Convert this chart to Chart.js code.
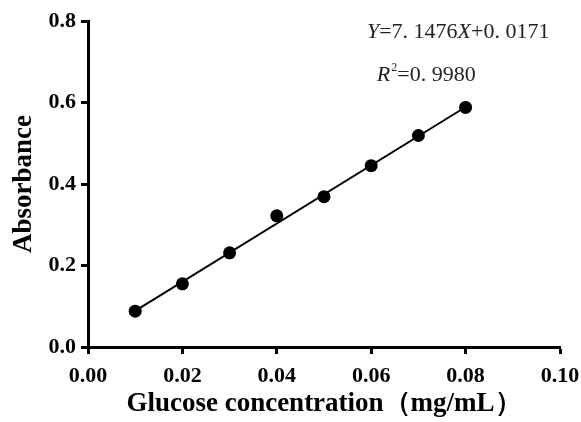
<!DOCTYPE html>
<html>
<head>
<meta charset="utf-8">
<script src="https://cdn.jsdelivr.net/npm/chart.js@4/dist/chart.umd.min.js"></script>
<style>
  body { margin: 0; background: #fff; }
  canvas { display: block; }
</style>
</head>
<body>
<canvas id="curve" width="581" height="422"></canvas>
<script>
// glucose standard curve
var concentration = [0.01, 0.02, 0.03, 0.04, 0.05, 0.06, 0.07, 0.08];
var absorbance = [0.088, 0.155, 0.231, 0.322, 0.369, 0.445, 0.519, 0.588];
var xTickLabels = ['0.00', '0.02', '0.04', '0.06', '0.08', '0.10'];
var yTickLabels = ['0.0', '0.2', '0.4', '0.6', '0.8'];
var slope = 7.1476;
var intercept = 0.0171;
var equationParts = [['Y', true], ['=7. 1476', false], ['X', true], ['+0. 0171', false]];
var rSquared = '=0. 9980';

var points = concentration.map(function (c, i) { return { x: c, y: absorbance[i] }; });
var first = concentration[0], last = concentration[concentration.length - 1];
var fitLine = [
    { x: first, y: slope * first + intercept },
    { x: last, y: slope * last + intercept }
];

var tickFont = { family: 'Liberation Serif', size: 22, weight: 'bold' };
var titleFont = { family: 'Liberation Serif', size: 27, weight: 'bold' };

// equation text in the upper right
var equationPlugin = {
    id: 'equation',
    afterDraw: function (chart) {
        var ctx = chart.ctx;
        var xs = chart.scales.x, ys = chart.scales.y;
        ctx.save();
        ctx.fillStyle = '#222';
        ctx.textBaseline = 'alphabetic';
        ctx.textAlign = 'left';
        var x = xs.getPixelForValue(0.0591);
        var y = ys.getPixelForValue(0.758);
        equationParts.forEach(function (p) {
            ctx.font = (p[1] ? 'italic ' : '') + '22px "Liberation Serif"';
            ctx.fillText(p[0], x, y);
            x += ctx.measureText(p[0]).width;
        });
        x = xs.getPixelForValue(0.0612);
        y = ys.getPixelForValue(0.652);
        ctx.font = 'italic 22px "Liberation Serif"';
        ctx.fillText('R', x, y);
        x += ctx.measureText('R').width + 1;
        ctx.font = '12px "Liberation Serif"';
        ctx.fillText('2', x, y - 10);
        x += ctx.measureText('2').width;
        ctx.font = '22px "Liberation Serif"';
        ctx.fillText(rSquared, x, y);
        ctx.restore();
    }
};

var ctx = document.getElementById('curve');
var chartGraph = new Chart(ctx, {
    type: 'scatter',
    data: {
        datasets: [{
            data: fitLine,
            showLine: true,
            borderColor: '#000',
            borderWidth: 2,
            pointRadius: 0
        }, {
            data: points,
            pointRadius: 6.5,
            pointBackgroundColor: '#000',
            pointBorderColor: '#000',
            borderWidth: 0
        }]
    },
    options: {
        responsive: false,
        animation: false,
        layout: { padding: { top: 21, right: 21, left: 0, bottom: 0 } },
        plugins: {
            legend: { display: false },
            tooltip: { enabled: false }
        },
        scales: {
            x: {
                type: 'linear',
                min: 0,
                max: 0.1,
                afterFit: function (scale) {
                    scale.height = 75;
                    scale.paddingLeft = 0;
                    scale.paddingRight = 0;
                },
                grid: { drawOnChartArea: false, drawTicks: true, tickLength: 7, tickWidth: 3, tickColor: '#000' },
                border: { display: true, width: 3, color: '#000' },
                ticks: {
                    stepSize: 0.02,
                    color: '#000',
                    font: tickFont,
                    padding: 9,
                    maxRotation: 0,
                    callback: function (value, index) { return xTickLabels[index]; }
                },
                title: {
                    display: true,
                    text: 'Glucose concentration（mg/mL）',
                    color: '#000',
                    font: titleFont,
                    padding: { top: 0, bottom: 2 }
                }
            },
            y: {
                min: 0,
                max: 0.8,
                afterFit: function (scale) { scale.width = 88; },
                grid: { drawOnChartArea: false, drawTicks: true, tickLength: 7, tickWidth: 3, tickColor: '#000' },
                border: { display: true, width: 3, color: '#000' },
                ticks: {
                    stepSize: 0.2,
                    color: '#000',
                    font: tickFont,
                    padding: 5,
                    callback: function (value, index) { return yTickLabels[index]; }
                },
                title: {
                    display: true,
                    text: 'Absorbance',
                    color: '#000',
                    font: titleFont,
                    padding: { top: 8, bottom: 0 }
                }
            }
        }
    },
    plugins: [equationPlugin]
});
</script>
</body>
</html>
